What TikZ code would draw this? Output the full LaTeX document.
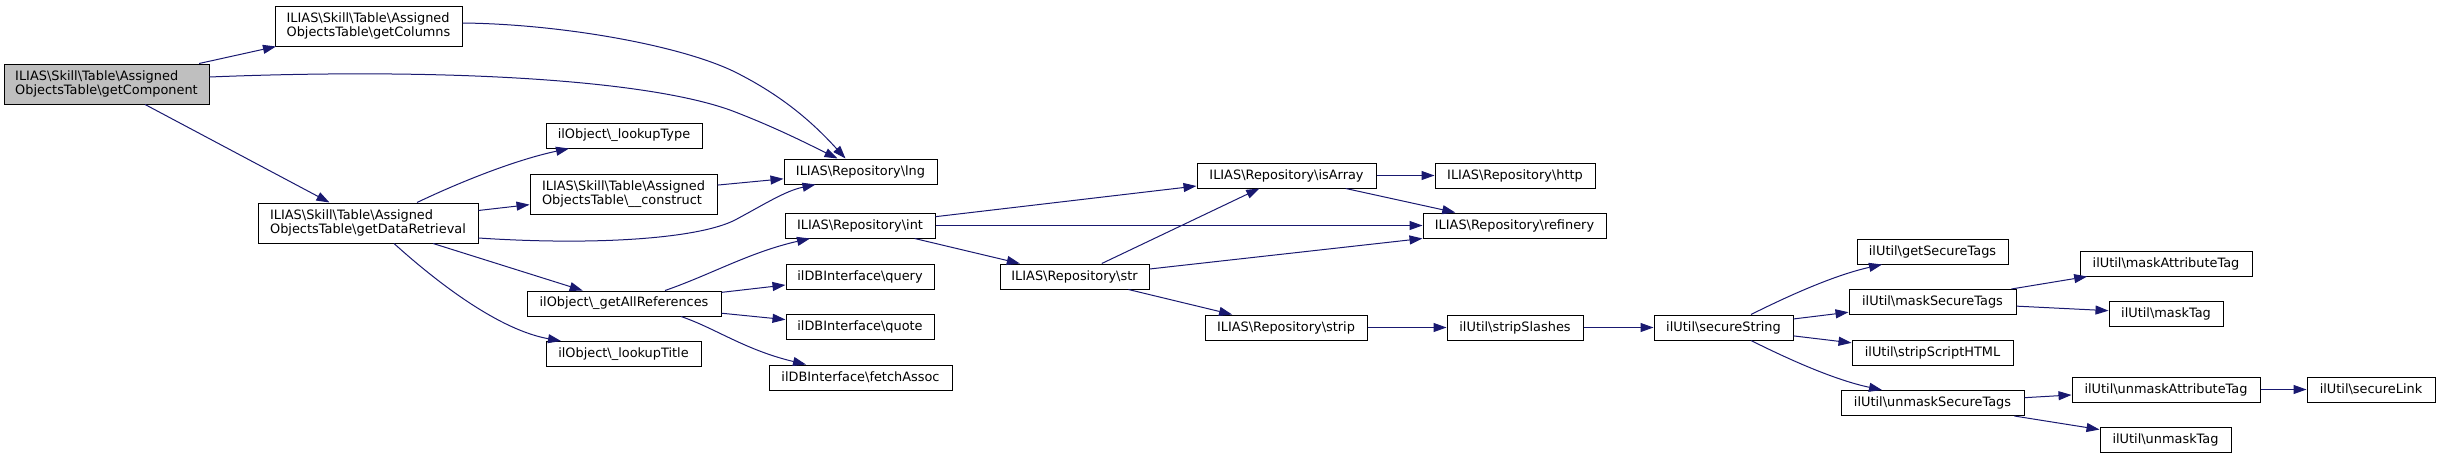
\documentclass[tikz,border=0pt]{standalone}
\usepackage{fontspec}
\setmainfont{DejaVu Sans}
\usetikzlibrary{arrows.meta}
\newcommand{\mybs}{\textbackslash}
\definecolor{edgecol}{HTML}{191970}
\definecolor{fillgrey}{HTML}{BFBFBF}
\tikzset{
 box/.style={draw=black, line width=1pt, fill=white, inner sep=0pt, font=\fontsize{12.9}{14}\selectfont, align=center, minimum height=25pt},
 lbox/.style={box, align=left, minimum height=40pt},
 edge/.style={draw=edgecol, line width=1pt, -{Triangle[length=13pt,width=9pt]}},
}
\begin{document}
\begin{tikzpicture}[x=1pt,y=-1pt]
\useasboundingbox (0,0) rectangle (2440,459);
% nodes
\node[lbox, fill=fillgrey, minimum width=205pt] (gc) at (106.5,84) {ILIAS\mybs Skill\mybs Table\mybs Assigned\\ObjectsTable\mybs getComponent};
\node[lbox, minimum width=187pt] (gcol) at (368.5,26) {ILIAS\mybs Skill\mybs Table\mybs Assigned\\ObjectsTable\mybs getColumns};
\node[lbox, minimum width=220pt] (gdr) at (368,223) {ILIAS\mybs Skill\mybs Table\mybs Assigned\\ObjectsTable\mybs getDataRetrieval};
\node[box, minimum width=156pt] (lt) at (624,135.5) {ilObject\mybs\_lookupType};
\node[lbox, minimum width=187pt] (con) at (623.5,194) {ILIAS\mybs Skill\mybs Table\mybs Assigned\\ObjectsTable\mybs\_\_construct};
\node[box, minimum width=194pt] (gar) at (624,303.5) {ilObject\mybs\_getAllReferences};
\node[box, minimum width=155pt] (ltt) at (623.5,354) {ilObject\mybs\_lookupTitle};
\node[box, minimum width=153pt] (lng) at (860.5,171.5) {ILIAS\mybs Repository\mybs lng};
\node[box, minimum width=150pt] (int) at (860,225.5) {ILIAS\mybs Repository\mybs int};
\node[box, minimum width=148pt] (query) at (860,276.5) {ilDBInterface\mybs query};
\node[box, minimum width=148pt] (quote) at (860,327) {ilDBInterface\mybs quote};
\node[box, minimum width=183pt] (fa) at (860.5,377.5) {ilDBInterface\mybs fetchAssoc};
\node[box, minimum width=149pt] (str) at (1074.5,276.5) {ILIAS\mybs Repository\mybs str};
\node[box, minimum width=179pt] (isa) at (1286.5,175.5) {ILIAS\mybs Repository\mybs isArray};
\node[box, minimum width=160pt] (http) at (1515,175.5) {ILIAS\mybs Repository\mybs http};
\node[box, minimum width=183pt] (ref) at (1514.5,225.5) {ILIAS\mybs Repository\mybs refinery};
\node[box, minimum width=162pt] (strip) at (1286,327.5) {ILIAS\mybs Repository\mybs strip};
\node[box, minimum width=136pt] (ssl) at (1515,327.5) {ilUtil\mybs stripSlashes};
\node[box, minimum width=139pt] (ss) at (1723.5,327.5) {ilUtil\mybs secureString};
\node[box, minimum width=151pt] (gst) at (1932.5,251.5) {ilUtil\mybs getSecureTags};
\node[box, minimum width=167pt] (mst) at (1932.5,302) {ilUtil\mybs maskSecureTags};
\node[box, minimum width=161pt] (ssh) at (1932.5,352.5) {ilUtil\mybs stripScriptHTML};
\node[box, minimum width=183pt] (ust) at (1932.5,403) {ilUtil\mybs unmaskSecureTags};
\node[box, minimum width=172pt] (mat) at (2166,263.5) {ilUtil\mybs maskAttributeTag};
\node[box, minimum width=114pt] (mt) at (2166,313.5) {ilUtil\mybs maskTag};
\node[box, minimum width=188pt] (uat) at (2166,389.5) {ilUtil\mybs unmaskAttributeTag};
\node[box, minimum width=128pt] (sl) at (2371,389.5) {ilUtil\mybs secureLink};
\node[box, minimum width=131pt] (ut) at (2165.5,440) {ilUtil\mybs unmaskTag};
% edges
\draw[edge] (gc) -- (gcol);
\draw[edge] ([yshift=7pt]gc.east) .. controls (430,68) and (640,78) .. (730,110) .. controls (775,127) and (810,145) .. ([xshift=-23pt]lng.north);
\draw[edge] (gc) -- (gdr);
\draw[edge] ([yshift=3pt]gcol.east) .. controls (560,24) and (680,45) .. (735,72) .. controls (785,97) and (815,125) .. ([xshift=-15pt]lng.north);
\draw[edge] ([xshift=49pt]gdr.north) .. controls (460,182) and (515,160) .. ([xshift=-55pt]lt.south);
\draw[edge] (gdr) -- (con);
\draw[edge] ([yshift=-15pt]gdr.east) .. controls (600,246) and (700,238) .. (735,220) .. controls (765,204) and (785,191) .. ([xshift=-45pt]lng.south);
\draw[edge] (gdr) -- (gar);
\draw[edge] ([xshift=26pt]gdr.south) .. controls (440,285) and (500,330) .. ([xshift=-62.5pt]ltt.north);
\draw[edge] (con) -- (lng);
\draw[edge] ([xshift=41pt]gar.north) .. controls (710,275) and (750,252) .. ([xshift=-50pt]int.south);
\draw[edge] (gar) -- (query);
\draw[edge] (gar) -- (quote);
\draw[edge] ([xshift=57pt]gar.south) .. controls (715,328) and (745,350) .. ([xshift=-54.5pt]fa.north);
\draw[edge] (int) -- (isa);
\draw[edge] (int) -- (ref);
\draw[edge] (int) -- (str);
\draw[edge] (str) -- (isa);
\draw[edge] ([yshift=7.5pt]str.east) -- ([yshift=-13pt]ref.west);
\draw[edge] (str) -- (strip);
\draw[edge] (isa) -- (http);
\draw[edge] (isa) -- (ref);
\draw[edge] (strip) -- (ssl);
\draw[edge] (ssl) -- (ss);
\draw[edge] ([xshift=27.5pt]ss.north) .. controls (1790,295) and (1835,275) .. ([xshift=-50.5pt]gst.south);
\draw[edge] (ss) -- (mst);
\draw[edge] (ss) -- (ssh);
\draw[edge] ([xshift=27.5pt]ss.south) .. controls (1790,360) and (1835,380) .. ([xshift=-50.5pt]ust.north);
\draw[edge] (mst) -- (mat);
\draw[edge] (mst) -- (mt);
\draw[edge] (ust) -- (uat);
\draw[edge] (ust) -- (ut);
\draw[edge] (uat) -- (sl);
\end{tikzpicture}
\end{document}
